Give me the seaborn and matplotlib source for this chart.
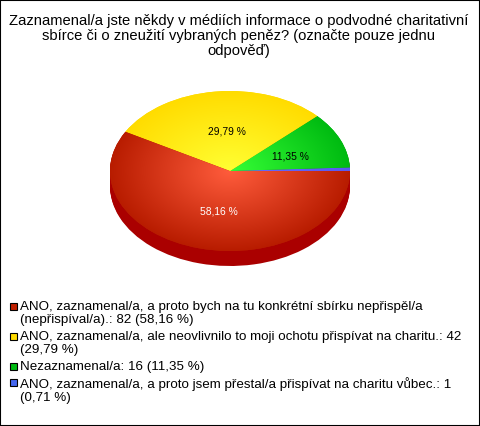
"""Czech survey pie: pseudo-3D pie with radial shading and a hand placed legend."""
import numpy as np
import matplotlib
matplotlib.use("Agg")
import matplotlib.pyplot as plt
import seaborn as sns
from matplotlib.colors import LinearSegmentedColormap
from matplotlib.patches import Rectangle

title = ("Zaznamenal/a jste někdy v médiích informace o podvodné charitativní\n"
         "sbírce či o zneužití vybraných peněz? (označte pouze jednu\n"
         "odpověď)")

# counter-clockwise from 3 o'clock
counts = [1, 16, 42, 82]
centre_colors = ["#6a6aff", "#36ff36", "#ffff33", "#ff5c3c"]
edge_colors = ["#5a5af0", "#00bb11", "#ffdc00", "#b81c00"]
side_colors = ["#aa0000", "#aa0000", "#aa0000", "#aa0000"]
label_colors = ["black", "black", "black", "white"]

legend_labels = [
    "ANO, zaznamenal/a, a proto bych na tu konkrétní sbírku nepřispěl/a\n(nepřispíval/a).: 82 (58,16 %)",
    "ANO, zaznamenal/a, ale neovlivnilo to moji ochotu přispívat na charitu.: 42\n(29,79 %)",
    "Nezaznamenal/a: 16 (11,35 %)",
    "ANO, zaznamenal/a, a proto jsem přestal/a přispívat na charitu vůbec.: 1\n(0,71 %)",
]
legend_colors = ["#c02000", "#ffdc00", "#00bb11", "#4466ee"]
legend_tops = [301, 331, 361, 377]

W, H = 480, 426
DEPTH = 15 / 80  # side wall height, in pie radii


def pct_label(p):
    if p < 1:
        return ""
    return f"{p:.2f} %".replace(".", ",")


def main():
    sns.set_theme(style="white")
    plt.rcParams["font.family"] = ["Liberation Sans", "DejaVu Sans"]

    fig = plt.figure(figsize=(W / 100, H / 100), dpi=100, facecolor="white")

    # pie axes cover the ellipse plus side wall: x 110..350, y 91..266 px
    ax = fig.add_axes([110 / W, 1 - 266 / H, 240 / W, 175 / H])

    # side wall: stacked dark pies
    for off in np.linspace(DEPTH, 0.01, 16):
        ax.pie(counts, colors=side_colors, startangle=0, center=(0, -off),
               radius=1, wedgeprops={"linewidth": 0})

    wedges, _, autotexts = ax.pie(
        counts, colors=edge_colors, startangle=0, radius=1,
        autopct=pct_label, pctdistance=0.51, labeldistance=None,
        wedgeprops={"linewidth": 0},
        textprops={"fontsize": 7.4},
    )

    # radial shading clipped to each slice
    gx, gy = np.meshgrid(np.linspace(-1, 1, 480), np.linspace(-1, 1, 320))
    rr = np.clip(np.hypot(gx, gy), 0, 1)
    for i, w in enumerate(wedges):
        cmap = LinearSegmentedColormap.from_list(f"s{i}", [centre_colors[i], edge_colors[i]])
        im = ax.imshow(rr, cmap=cmap, vmin=0, vmax=1, extent=(-1, 1, -1, 1),
                       origin="lower", aspect="auto", zorder=w.get_zorder() + 0.1)
        im.set_clip_path(w)

    # small nudge so the labels sit where the original has them
    for t, c in zip(autotexts, label_colors):
        t.set_color(c)
        t.set_zorder(5)
        x, y = t.get_position()
        t.set_position((x + 4 / 120, y - 1 / 80))

    ax.set_aspect("auto")
    ax.set_xlim(-1, 1)
    ax.set_ylim(-1 - DEPTH, 1)
    ax.axis("off")

    fig.text(238.5 / W, 1 - 14.5 / H, title, ha="center", va="top", fontsize=10.6,
             linespacing=1.06, color="black")

    for lab, col, top in zip(legend_labels, legend_colors, legend_tops):
        fig.add_artist(Rectangle((9.8 / W, 1 - (top + 8.5) / H), 7 / W, 7 / H,
                                 transform=fig.transFigure, facecolor=col,
                                 edgecolor="black", linewidth=0.8))
        fig.text(20 / W, 1 - top / H, lab, ha="left", va="top", fontsize=9.65,
                 linespacing=1.14, color="black")

    # black outer frame
    fig.add_artist(Rectangle((0, 0), 1, 1, transform=fig.transFigure, fill=False,
                             edgecolor="black", linewidth=1.5))

    fig.savefig("out.png", dpi=100)


if __name__ == "__main__":
    main()
